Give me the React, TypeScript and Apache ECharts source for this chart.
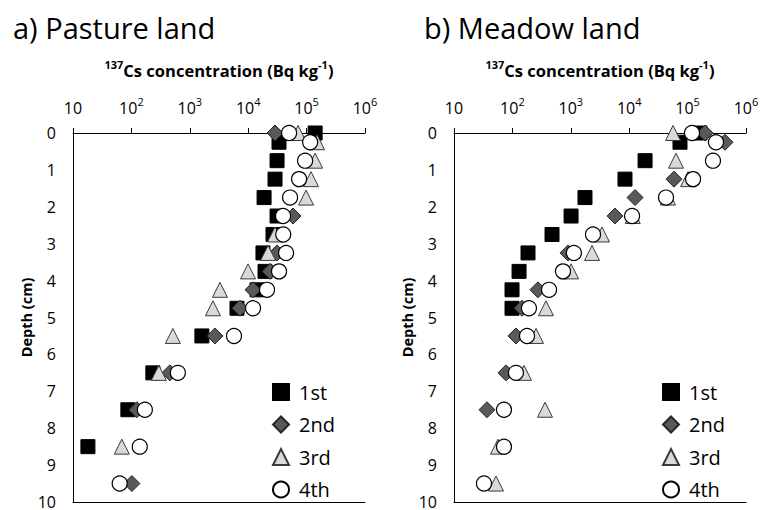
import React, { useEffect, useRef } from "react";
import * as echarts from "echarts";

const FONT = '"Open Sans", "Noto Sans", sans-serif';

const depths = [0, 0.25, 0.75, 1.25, 1.75, 2.25, 2.75, 3.25, 3.75, 4.25, 4.75, 5.5, 6.5, 7.5, 8.5, 9.5];
const seriesNames = ["1st", "2nd", "3rd", "4th"];
const xTickValues = [10, 100, 1000, 10000, 100000, 1000000];

// a) Pasture land (Bq/kg), null = not visible
const pasture1st = [140000, 33700, 31200, 28800, 18700, 31200, 26600, 17900, 19400, 14200, 6430, 1610, 233, 87, 18, null];
const pasture2nd = [28800, null, null, null, null, 58600, null, 31200, 23700, 12100, 7230, 2700, 456, 124, null, 102];
const pasture3rd = [71500, 151000, 140000, 119000, 98000, null, 28800, 21900, 9930, 3280, 2490, 513, 295, null, 68.5, null];
const pasture4th = [50100, 115000, 94200, 74300, 52100, 39500, 39800, 44500, 33700, 21000, 12100, 5710, 625, 170, 139, 63];

// b) Meadow land
const meadow1st = [163000, 74100, 18700, 8470, 1750, 1010, 477, 185, 130, 98.5, 98.5, null, null, null, null, null];
const meadow2nd = [199000, 437000, null, 58500, 12600, 5710, null, 895, null, 274, 146, 115, 77.7, 36.7, null, null];
const meadow3rd = [56200, null, 63300, 102000, 46200, 11500, 3420, 2310, 1010, null, 376, 254, 158, 362, 56.7, 52.4];
const meadow4th = [119000, 306000, 272000, 124000, 42700, 11200, 2400, 1130, 735, 424, 192, 178, 115, 71.8, 71.8, 32.6];

const styles = [
  { symbol: "rect", size: 14, color: "#000000", border: "#000000", bw: 1 },
  { symbol: "diamond", size: 16, color: "#595959", border: "#262626", bw: 1 },
  { symbol: "triangle", size: 15, color: "#d9d9d9", border: "#3a3a3a", bw: 1 },
  { symbol: "circle", size: 15, color: "#ffffff", border: "#000000", bw: 1.2 },
];

function pairs(vals: (number | null)[]) {
  const out: number[][] = [];
  vals.forEach((v, i) => {
    if (v !== null) out.push([v, depths[i]]);
  });
  return out;
}

const supRich = {
  b: { fontSize: 16, fontFamily: FONT, color: "#000", lineHeight: 20, verticalAlign: "bottom" },
  sup: { fontSize: 11, fontFamily: FONT, color: "#000", lineHeight: 12, verticalAlign: "top" },
};
const nameRich = {
  b: { fontSize: 16.5, fontFamily: FONT, fontWeight: "bold", color: "#000", lineHeight: 20, verticalAlign: "bottom" },
  sup: { fontSize: 11, fontFamily: FONT, fontWeight: "bold", color: "#000", lineHeight: 11, verticalAlign: "top" },
};

function tickFmt(v: number) {
  const e = Math.round(Math.log10(v));
  if (!xTickValues.includes(Math.pow(10, e))) return "";
  return e === 1 ? "{b|10}" : "{b|10}{sup|" + e + "}";
}

export default function App() {
  const ref = useRef<HTMLDivElement>(null);
  useEffect(() => {
    if (!ref.current) return;
    const chart = echarts.init(ref.current, undefined, { renderer: "svg" });
    const lefts = [73, 454];
    const grids = lefts.map((l) => ({ left: l, top: 133, width: 292, height: 374 }));
    const xAxes: any[] = [];
    const yAxes: any[] = [];
    lefts.forEach((_, gi) => {
      xAxes.push({
        type: "log",
        logBase: 10,
        min: 10,
        max: 1000000,
        gridIndex: gi,
        position: "top",
        axisLine: { show: true, lineStyle: { color: "#000", width: 1 } },
        axisTick: { show: true, length: 5, inside: false, lineStyle: { color: "#000" } },
        minorTick: { show: false },
        splitLine: { show: false },
        axisLabel: { formatter: tickFmt, rich: supRich, margin: 17 },
        name: "{sup|137}{b|Cs concentration (Bq kg}{sup|-1}{b|)}",
        nameLocation: "middle",
        nameGap: 54,
        nameTextStyle: { rich: nameRich },
      });
      xAxes.push({
        type: "log",
        logBase: 10,
        min: 10,
        max: 1000000,
        gridIndex: gi,
        position: "bottom",
        axisLine: { show: true, lineStyle: { color: "#000", width: 1 } },
        axisTick: { show: false },
        axisLabel: { show: false },
        splitLine: { show: false },
      });
      yAxes.push({
        type: "value",
        min: 0,
        max: 10,
        interval: 1,
        inverse: true,
        gridIndex: gi,
        axisLine: { show: true, onZero: false, lineStyle: { color: "#000", width: 1 } },
        axisTick: { show: false },
        splitLine: { show: false },
        axisLabel: { fontSize: 16, fontFamily: FONT, color: "#000", margin: 17 },
        name: "Depth (cm)",
        nameLocation: "middle",
        nameGap: 32,
        nameRotate: 90,
        nameTextStyle: { fontSize: 14.5, fontWeight: "bold", fontFamily: FONT, color: "#000" },
      });
    });

    const panels = [
      [pasture1st, pasture2nd, pasture3rd, pasture4th],
      [meadow1st, meadow2nd, meadow3rd, meadow4th],
    ];
    const series: any[] = [];
    panels.forEach((p, gi) => {
      p.forEach((vals, si) => {
        const st = styles[si];
        series.push({
          type: "scatter",
          name: seriesNames[si],
          xAxisIndex: gi * 2,
          yAxisIndex: gi,
          symbol: st.symbol,
          symbolSize: st.size,
          itemStyle: { color: st.color, borderColor: st.border, borderWidth: st.bw, opacity: 1 },
          data: pairs(vals),
          z: 2 + si,
        });
      });
    });

    const legendBase = {
      orient: "vertical",
      top: 382,
      height: 125,
      padding: 0,
      itemWidth: 16,
      itemHeight: 16,
      itemGap: 12.5,
      selectedMode: false,
      data: seriesNames,
      textStyle: { fontSize: 20, fontFamily: FONT, color: "#000", lineHeight: 18, padding: [0, 0, 0, 5] },
    };

    chart.setOption({
      animation: false,
      backgroundColor: "#ffffff",
      title: [
        { text: "a) Pasture land", left: 8, top: 8, textStyle: { fontSize: 29, fontWeight: "normal", fontFamily: FONT, color: "#000" } },
        { text: "b) Meadow land", left: 419, top: 8, textStyle: { fontSize: 29, fontWeight: "normal", fontFamily: FONT, color: "#000" } },
      ],
      grid: grids,
      xAxis: xAxes,
      yAxis: yAxes,
      legend: [
        { ...legendBase, left: 272 },
        { ...legendBase, left: 662 },
      ],
      series,
    });
    return () => chart.dispose();
  }, []);
  return <div ref={ref} style={{ position: "absolute", left: 0, top: 0, width: 766, height: 510 }} />;
}
